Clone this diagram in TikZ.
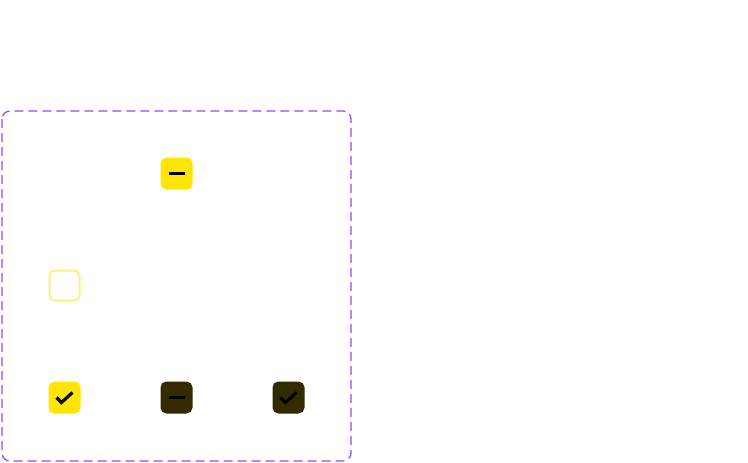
\documentclass[tikz,border=0pt]{standalone}
\begin{document}
\begin{tikzpicture}[x=1pt,y=-1pt,
  cb/.style={minimum size=30pt,inner sep=0pt,rounded corners=5pt,line width=2pt},
  mark/.style={}, 
  tick/.style={line width=3.2pt,black},
]
\definecolor{yel}{HTML}{FFE500}
\definecolor{lyel}{HTML}{FFEF80}
\definecolor{dk}{HTML}{332B00}
\definecolor{purp}{HTML}{9747FF}
\useasboundingbox (0,0) rectangle (748,463);
\draw[purp,line width=1.3pt,dash pattern=on 9pt off 5pt,rounded corners=8pt] (2,111) rectangle (351,461);
\node[cb,fill=yel,draw=yel] (a) at (176.5,173.5) {};
\node[cb,fill=white,draw=lyel] (b) at (64.5,285.5) {};
\node[cb,fill=yel,draw=yel] (c) at (64.5,397.5) {};
\node[cb,fill=dk,draw=dk] (d) at (176.5,397.5) {};
\node[cb,fill=dk,draw=dk] (e) at (288.5,397.5) {};
\draw[line width=3pt] ([xshift=-8pt]a.center) -- ([xshift=8pt]a.center);
\draw[line width=3pt] ([xshift=-8pt]d.center) -- ([xshift=8pt]d.center);
\foreach \n in {c,e}
  \draw[line width=3.2pt] ([shift={(-8,0)}]\n.center) -- ([shift={(-3,5)}]\n.center) -- ([shift={(8,-5)}]\n.center);
\end{tikzpicture}
\end{document}
